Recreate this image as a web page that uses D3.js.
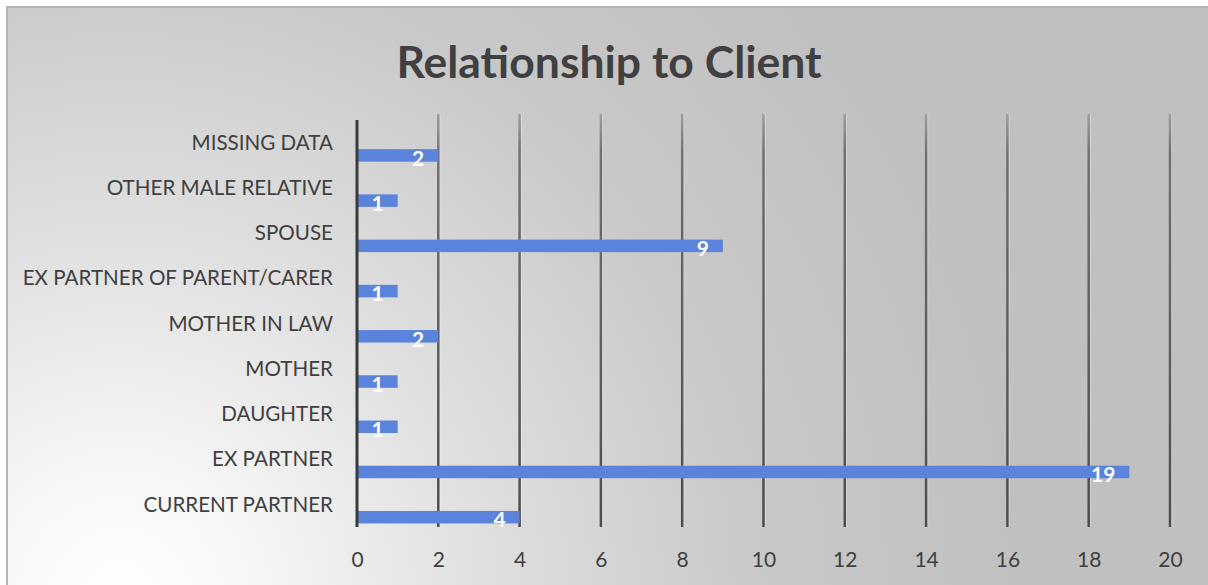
<!DOCTYPE html>
<html>
<head>
<meta charset="utf-8">
<script src="https://cdn.jsdelivr.net/npm/d3@7/dist/d3.min.js"></script>
<style>
  html, body { margin: 0; padding: 0; background: #ffffff; }
  svg { display: block; }
</style>
</head>
<body>
<svg id="chart" width="1208" height="585"></svg>
<script>
// Chart data: categories listed top to bottom, with their counts
const categories = [
  "MISSING DATA",
  "OTHER MALE RELATIVE",
  "SPOUSE",
  "EX PARTNER OF PARENT/CARER",
  "MOTHER IN LAW",
  "MOTHER",
  "DAUGHTER",
  "EX PARTNER",
  "CURRENT PARTNER"
];
const counts = [2, 1, 9, 1, 2, 1, 1, 19, 4];
const tickValues = [0, 2, 4, 6, 8, 10, 12, 14, 16, 18, 20];
const titleText = "Relationship to Client";

const W = 1208, H = 585;
const plot = { left: 357, right: 1170, top: 120, bottom: 527 };
const FONT = "Lato, 'Open Sans', sans-serif";

const svg = d3.select("#chart");
const defs = svg.append("defs");

// Soft background: light glow from the lower-left corner fading to grey
const bg = defs.append("radialGradient")
  .attr("id", "bgGrad")
  .attr("gradientUnits", "userSpaceOnUse")
  .attr("cx", 120).attr("cy", 600).attr("r", 900);
[[0, "#ffffff"], [0.14, "#f7f7f7"], [0.4, "#e0e0e0"], [0.7, "#c9c9c9"], [1, "#c0c0c0"]]
  .forEach(([o, c]) => bg.append("stop").attr("offset", o).attr("stop-color", c));

// Gridlines shade from lighter at top to darker at bottom
const gg = defs.append("linearGradient")
  .attr("id", "gridGrad")
  .attr("gradientUnits", "userSpaceOnUse")
  .attr("x1", 0).attr("y1", plot.top - 8).attr("x2", 0).attr("y2", plot.bottom);
[[0, "#a0a0a0"], [0.1, "#707070"], [1, "#4c4c4c"]]
  .forEach(([o, c]) => gg.append("stop").attr("offset", o).attr("stop-color", c));

// Chart area frame
svg.append("rect")
  .attr("x", 7).attr("y", 7)
  .attr("width", W + 10).attr("height", H + 10)
  .attr("fill", "url(#bgGrad)")
  .attr("stroke", "#b4b4b4")
  .attr("stroke-width", 2);

// Scales
const x = d3.scaleLinear().domain([0, 20]).range([plot.left, plot.right]);
const y = d3.scaleBand().domain(categories).range([plot.top, plot.bottom]).padding(0);
const bandH = y.bandwidth();
const barOffset = bandH * 0.645;   // bar sits in lower part of each band
const barH = 12.5;

// Title
svg.append("text")
  .attr("x", 609).attr("y", 78)
  .attr("text-anchor", "middle")
  .attr("font-family", FONT)
  .attr("font-weight", 700)
  .attr("font-size", 44.5)
  .attr("fill", "#404040")
  .text(titleText);

// Vertical gridlines (skip the zero line, drawn as the axis)
const grid = svg.append("g");
tickValues.filter(v => v !== 0).forEach(v => {
  grid.append("line")
    .attr("x1", x(v) + 1.6).attr("x2", x(v) + 1.6)
    .attr("y1", plot.top - 6).attr("y2", plot.bottom)
    .attr("stroke", "#ffffff").attr("stroke-opacity", 0.35)
    .attr("stroke-width", 1.2);
  grid.append("line")
    .attr("x1", x(v)).attr("x2", x(v))
    .attr("y1", plot.top - 6).attr("y2", plot.bottom)
    .attr("stroke", "url(#gridGrad)")
    .attr("stroke-width", 2.5);
});

// Bars
svg.append("g").selectAll("rect")
  .data(categories)
  .join("rect")
  .attr("x", x(0))
  .attr("y", d => y(d) + barOffset)
  .attr("width", (d, i) => x(counts[i]) - x(0))
  .attr("height", barH)
  .attr("fill", "#5a83db");

// Category axis line
svg.append("line")
  .attr("x1", x(0)).attr("x2", x(0))
  .attr("y1", plot.top).attr("y2", plot.bottom)
  .attr("stroke", "#3a3a3a")
  .attr("stroke-width", 3);

// Category labels
svg.append("g").selectAll("text")
  .data(categories)
  .join("text")
  .attr("x", 333)
  .attr("y", d => y(d) + bandH / 2)
  .attr("dy", "0.35em")
  .attr("text-anchor", "end")
  .attr("font-family", FONT)
  .attr("font-size", 20.6)
  .attr("fill", "#404040")
  .text(d => d);

// Value axis tick labels
const xAxis = d3.axisBottom(x).tickValues(tickValues).tickSize(0).tickPadding(0);
const axG = svg.append("g")
  .attr("transform", `translate(0, ${plot.bottom})`)
  .call(xAxis);
axG.select(".domain").remove();
axG.selectAll("text")
  .attr("y", 40)
  .attr("dy", 0)
  .attr("font-family", FONT)
  .attr("font-size", 21)
  .attr("fill", "#404040");

// Value labels inside the bar ends
svg.append("g").selectAll("text")
  .data(categories)
  .join("text")
  .attr("x", (d, i) => x(counts[i]) - 14)
  .attr("y", d => y(d) + barOffset + 16.5)
  .attr("text-anchor", "end")
  .attr("font-family", FONT)
  .attr("font-weight", 700)
  .attr("font-size", 21)
  .attr("fill", "#ffffff")
  .text((d, i) => counts[i]);
</script>
</body>
</html>
